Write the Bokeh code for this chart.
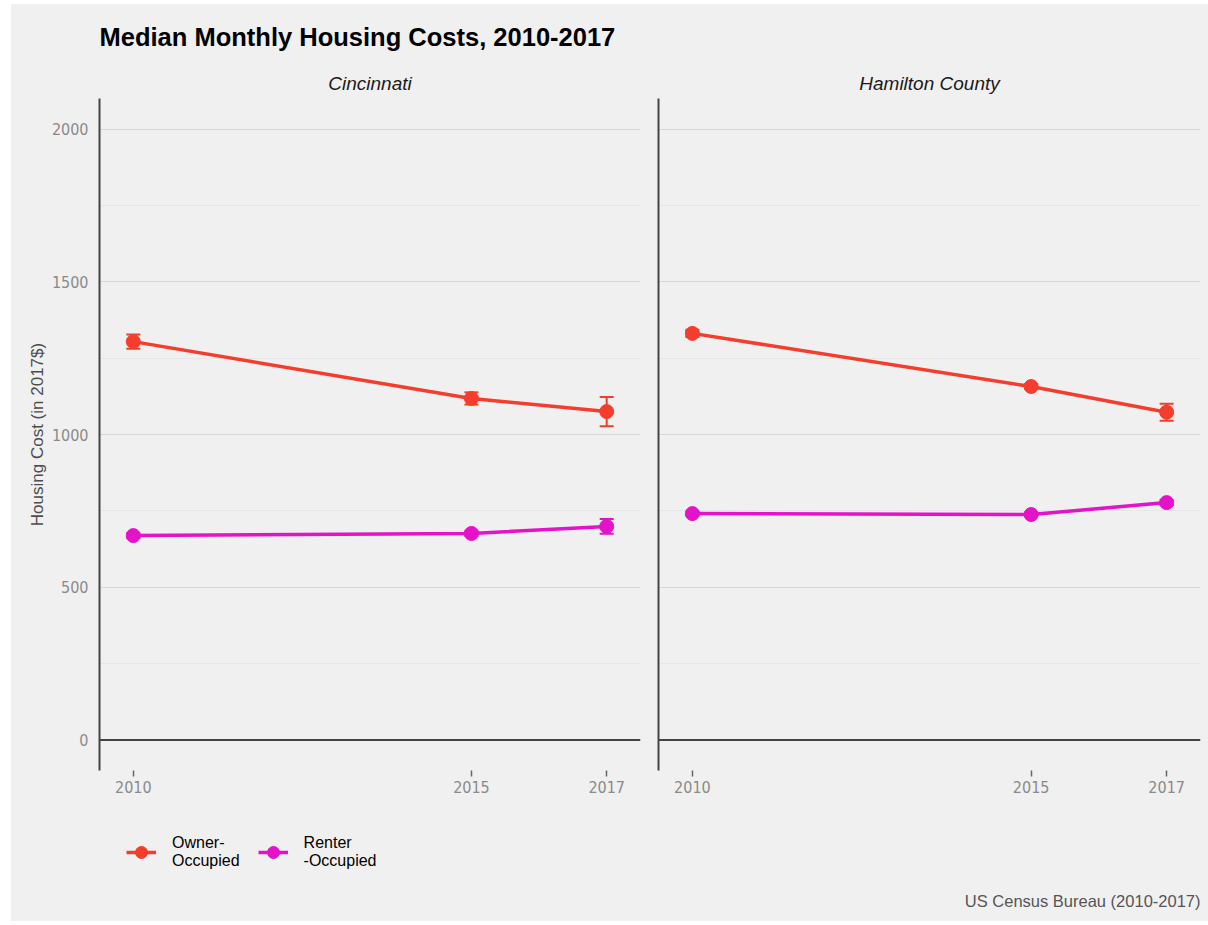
from bokeh.plotting import figure
from bokeh.layouts import row, column
from bokeh.models import (Range1d, FixedTicker, Span, Whisker, TeeHead, Title, Label,
                          ColumnDataSource, Legend, LegendItem)
from bokeh.embed import file_html
from bokeh.resources import INLINE

years = [2010, 2015, 2017]
cin_owner = [1304, 1118, 1075]
cin_owner_moe = [23, 20, 48]
cin_renter = [669, 676, 699]
cin_renter_moe = [8, 8, 24]
ham_owner = [1331, 1157, 1073]
ham_owner_moe = [12, 8, 28]
ham_renter = [741, 738, 777]
ham_renter_moe = [6, 6, 8]
panels = ["Cincinnati", "Hamilton County"]
series_names = ["Owner-\nOccupied", "Renter\n-Occupied"]
y_ticks = [0, 500, 1000, 1500, 2000]
y_minor = [250, 750, 1250, 1750]
title_text = "Median Monthly Housing Costs, 2010-2017"
caption_text = "US Census Bureau (2010-2017)"

OWNER = "#f53d2d"
RENTER = "#e412c8"
BG = "#f0f0f0"
NARROW = "'Liberation Sans Narrow', 'Arial Narrow', 'DejaVu Sans Condensed', sans-serif"
SANS = "'Liberation Sans', Arial, sans-serif"

x_range = Range1d(2009.5, 2017.5)
y_range = Range1d(-100, 2100)

PANEL_H = 796


def make_panel(name, owner, owner_moe, renter, renter_moe, left, width, first):
    p = figure(width=width, height=PANEL_H, x_range=x_range, y_range=y_range,
               output_backend="svg", toolbar_location=None,
               title=title_text if first else name,
               min_border_left=left, min_border_right=8, min_border_top=94,
               min_border_bottom=30)
    p.background_fill_color = BG
    p.border_fill_color = BG
    p.outline_line_color = None
    if first:
        p.title.align = "left"
        p.title.text_font = SANS
        p.title.text_font_style = "bold"
        p.title.text_font_size = "25.5px"
        p.title.text_color = "#000000"
        p.title.standoff = 29
        facet = Title(text=name, align="center", text_font=SANS, text_font_style="italic",
                      text_font_size="19px", text_color="#1a1a1a", standoff=10)
        p.add_layout(facet, "above")
    else:
        p.title.align = "center"
        p.title.text_font = SANS
        p.title.text_font_style = "italic"
        p.title.text_font_size = "19px"
        p.title.text_color = "#1a1a1a"
        p.title.standoff = 10

    p.xgrid.visible = False
    p.ygrid.ticker = FixedTicker(ticks=y_ticks, minor_ticks=y_minor)
    p.ygrid.grid_line_color = "#d6d6d6"
    p.ygrid.grid_line_width = 1.2
    p.ygrid.minor_grid_line_color = "#e6e6e6"
    p.ygrid.minor_grid_line_width = 1

    p.yaxis.ticker = FixedTicker(ticks=y_ticks)
    p.yaxis.axis_line_color = "#444444"
    p.yaxis.axis_line_width = 2
    p.yaxis.major_tick_out = 0
    p.yaxis.major_tick_in = 0
    p.yaxis.minor_tick_out = 0
    p.yaxis.minor_tick_in = 0
    p.yaxis.major_label_text_font = NARROW
    p.yaxis.major_label_text_font_size = "16px"
    p.yaxis.major_label_text_color = "#8a8a8a"
    p.yaxis.major_label_standoff = 11
    if first:
        p.yaxis.axis_label = "Housing Cost (in 2017$)"
        p.yaxis.axis_label_text_font = SANS
        p.yaxis.axis_label_text_font_style = "normal"
        p.yaxis.axis_label_text_font_size = "17px"
        p.yaxis.axis_label_text_color = "#4d4d4d"
        p.yaxis.axis_label_standoff = 2
    else:
        p.yaxis.major_label_overrides = {t: "" for t in y_ticks}
        p.yaxis.major_label_standoff = 0

    p.xaxis.ticker = FixedTicker(ticks=years)
    p.xaxis.axis_line_color = None
    p.xaxis.major_tick_out = 6
    p.xaxis.major_tick_in = 0
    p.xaxis.minor_tick_out = 0
    p.xaxis.minor_tick_in = 0
    p.xaxis.major_tick_line_color = "#666666"
    p.xaxis.major_tick_line_width = 1.5
    p.xaxis.major_label_text_font = NARROW
    p.xaxis.major_label_text_font_size = "16px"
    p.xaxis.major_label_text_color = "#8a8a8a"
    p.xaxis.major_label_standoff = 4

    p.add_layout(Span(location=0, dimension="width", line_color="#444444", line_width=2))

    for vals, moe, color in [(owner, owner_moe, OWNER), (renter, renter_moe, RENTER)]:
        src = ColumnDataSource(dict(x=years, y=vals,
                                    lo=[v - m for v, m in zip(vals, moe)],
                                    hi=[v + m for v, m in zip(vals, moe)]))
        p.line("x", "y", source=src, line_color=color, line_width=3.5)
        w = Whisker(base="x", upper="hi", lower="lo", source=src, line_color=color, line_width=2,
                    upper_head=TeeHead(size=14, line_color=color, line_width=2),
                    lower_head=TeeHead(size=14, line_color=color, line_width=2))
        p.add_layout(w)
        p.scatter("x", "y", source=src, size=14, fill_color=color, line_color=color)
    return p


p1 = make_panel(panels[0], cin_owner, cin_owner_moe, cin_renter, cin_renter_moe, 88, 637, True)
p2 = make_panel(panels[1], ham_owner, ham_owner_moe, ham_renter, ham_renter_moe, 10, 560, False)

# bottom strip: legend + caption (legend keys reuse the Cincinnati series, which fall outside this strip's ranges)
LW, LH = 1197, 121
pl = figure(width=LW, height=LH, x_range=Range1d(0, LW), y_range=Range1d(0, LH),
            x_axis_type=None, y_axis_type=None, output_backend="svg", toolbar_location=None,
            min_border=0)
pl.background_fill_color = BG
pl.border_fill_color = BG
pl.outline_line_color = None
pl.grid.visible = False

items = []
for color, label, vals in [(OWNER, series_names[0], cin_owner), (RENTER, series_names[1], cin_renter)]:
    ln = pl.line(x=years, y=vals, line_color=color, line_width=3.5)
    sc = pl.scatter(x=years, y=vals, size=14, fill_color=color, line_color=color)
    items.append(LegendItem(label=label, renderers=[ln, sc]))

legend = Legend(items=items, orientation="horizontal", location=(115, 51),
                glyph_width=30, glyph_height=36, label_standoff=16, spacing=18,
                margin=0, padding=0, background_fill_alpha=0, border_line_color=None,
                label_text_font=SANS, label_text_font_size="16px", label_text_color="#000000",
                label_text_line_height=1.2)
pl.add_layout(legend, "center")

pl.add_layout(Label(x=LW - 8, y=LH - 100, text=caption_text, text_align="right",
                    text_baseline="middle", text_font=SANS, text_font_size="16.5px",
                    text_color="#555555"))

top = row(p1, p2, spacing=0, styles={"background-color": BG})
layout = column(top, pl, spacing=0, margin=(4, 0, 0, 11), styles={"background-color": BG})
open("out.html", "w").write(file_html(layout, INLINE))
